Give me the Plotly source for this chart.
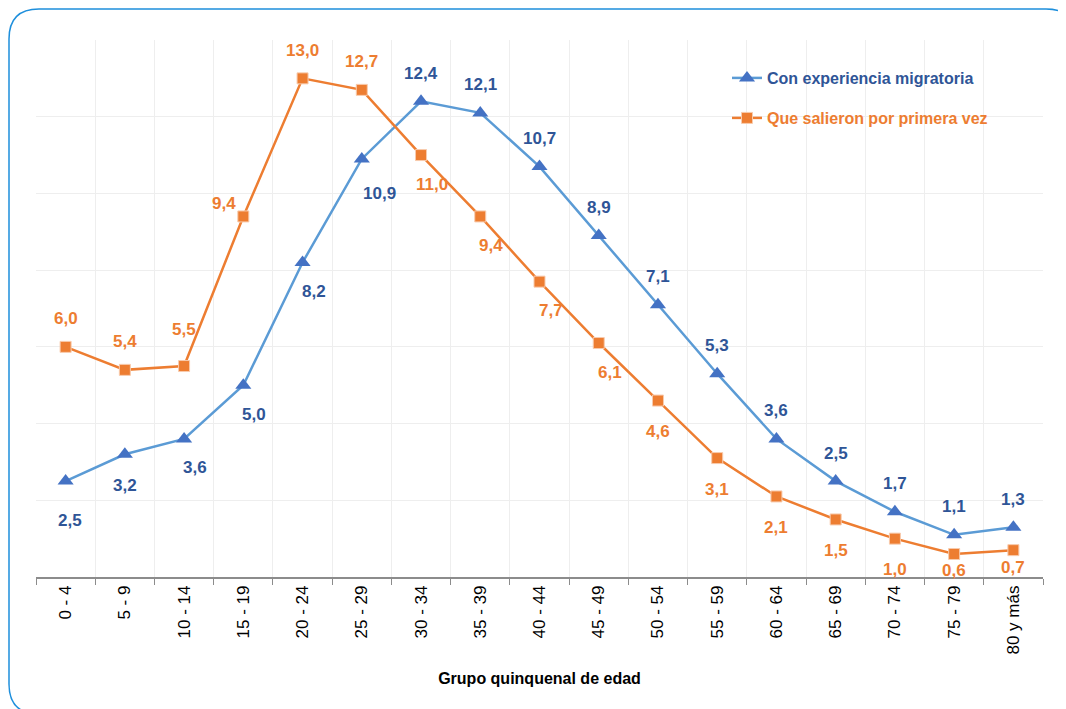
import plotly.graph_objects as go

grupos = ["0 - 4", "5 - 9", "10 - 14", "15 - 19", "20 - 24", "25 - 29", "30 - 34",
          "35 - 39", "40 - 44", "45 - 49", "50 - 54", "55 - 59", "60 - 64",
          "65 - 69", "70 - 74", "75 - 79", "80 y más"]
con_experiencia = [2.5, 3.2, 3.6, 5.0, 8.2, 10.9, 12.4, 12.1, 10.7, 8.9, 7.1, 5.3,
                   3.6, 2.5, 1.7, 1.1, 1.3]
primera_vez = [6.0, 5.4, 5.5, 9.4, 13.0, 12.7, 11.0, 9.4, 7.7, 6.1, 4.6, 3.1,
               2.1, 1.5, 1.0, 0.6, 0.7]

# where each data label sits relative to its marker
pos_exp = ["below2", "below", "br", "br", "br", "br2"] + ["above"] * 11
pos_pri = ["above", "above", "above2", "tl", "above", "above", "br", "br", "br", "br",
           "below", "below", "below", "below", "below", "near", "near"]
shifts = {
    "above": (0, 28), "above2": (0, 37), "below": (0, -31), "below2": (4, -39),
    "br": (11, -29), "br2": (18, -35), "tl": (-19, 13), "near": (0, -17),
}

AZUL_LINEA = "#5B9BD5"
AZUL_MARCA = "#4472C4"
AZUL_TEXTO = "#2F5597"
NARANJA = "#ED7D31"
FONT = "Liberation Sans, Arial, sans-serif"

# page has an 8px body margin, so the figure starts at (8, 8) in the screenshot
OFF = 8
W, H = 1058, 701
ML, MR, MT, MB = 28, 23, 32, 132
PW, PH = W - ML - MR, H - MT - MB


def px(x, y):
    # screenshot pixel -> paper coordinate
    return (x - OFF - ML) / PW, 1 - (y - OFF - MT) / PH


fig = go.Figure()
fig.add_trace(go.Scatter(
    x=grupos, y=con_experiencia, mode="lines+markers",
    name="Con experiencia migratoria",
    line=dict(color=AZUL_LINEA, width=2.5),
    marker=dict(symbol="triangle-up", size=14, color=AZUL_MARCA),
    legend="legend", showlegend=True,
))
fig.add_trace(go.Scatter(
    x=grupos, y=primera_vez, mode="lines+markers",
    name="Que salieron por primera vez",
    line=dict(color=NARANJA, width=2.5),
    marker=dict(symbol="square", size=11, color=NARANJA,
                line=dict(color="#F8CBAD", width=1)),
    legend="legend2", showlegend=True,
))

for vals, poss, color in [(con_experiencia, pos_exp, AZUL_TEXTO),
                          (primera_vez, pos_pri, NARANJA)]:
    for g, v, p in zip(grupos, vals, poss):
        dx, dy = shifts[p]
        fig.add_annotation(
            x=g, y=v, text=f"{v:.1f}".replace(".", ","), showarrow=False,
            xshift=dx, yshift=dy,
            font=dict(family=FONT, size=17, color=color, weight="bold"),
        )

# rounded frame around the chart
x0, y0 = px(9, 9)
x1, y1 = px(1076, 714)
rx = 30 / PW
ry = 30 / PH
path = (f"M {x0},{y1 + ry} L {x0},{y0 - ry} Q {x0},{y0} {x0 + rx},{y0} "
        f"L {x1 - rx},{y0} Q {x1},{y0} {x1},{y0 - ry} "
        f"L {x1},{y1 + ry} Q {x1},{y1} {x1 - rx},{y1} "
        f"L {x0 + rx},{y1} Q {x0},{y1} {x0},{y1 + ry} Z")
fig.add_shape(type="path", path=path, xref="paper", yref="paper",
              line=dict(color="#1E8FDC", width=1.5), layer="above")

lx, ly1 = px(727, 78)
_, ly2 = px(727, 118)
fig.update_layout(
    width=W, height=H,
    margin=dict(l=ML, r=MR, t=MT, b=MB),
    paper_bgcolor="white", plot_bgcolor="white",
    font=dict(family=FONT, size=16, color="black"),
    showlegend=True,
    legend=dict(x=lx, y=ly1, xanchor="left", yanchor="middle", visible=True,
                font=dict(size=16, color=AZUL_TEXTO, weight="bold"),
                bgcolor="rgba(0,0,0,0)"),
    legend2=dict(x=lx, y=ly2, xanchor="left", yanchor="middle", visible=True,
                 font=dict(size=16, color=NARANJA, weight="bold"),
                 bgcolor="rgba(0,0,0,0)"),
    xaxis=dict(
        range=[-0.5, len(grupos) - 0.5],
        tickangle=-90, tickson="boundaries", ticks="outside", ticklen=6,
        tickcolor="#8C8C8C", showline=True, linecolor="#8C8C8C", linewidth=1.5,
        showgrid=True, gridcolor="#EEEEEE", gridwidth=1,
        tickfont=dict(size=17, color="black"),
        title=dict(text="Grupo quinquenal de edad", standoff=19,
                   font=dict(size=16, color="black", weight="bold")),
        automargin=False,
    ),
    yaxis=dict(
        range=[0, 14], dtick=2, showticklabels=False, showgrid=True,
        gridcolor="#EEEEEE", gridwidth=1, zeroline=False, showline=False,
    ),
)

fig.write_html("out.html")
